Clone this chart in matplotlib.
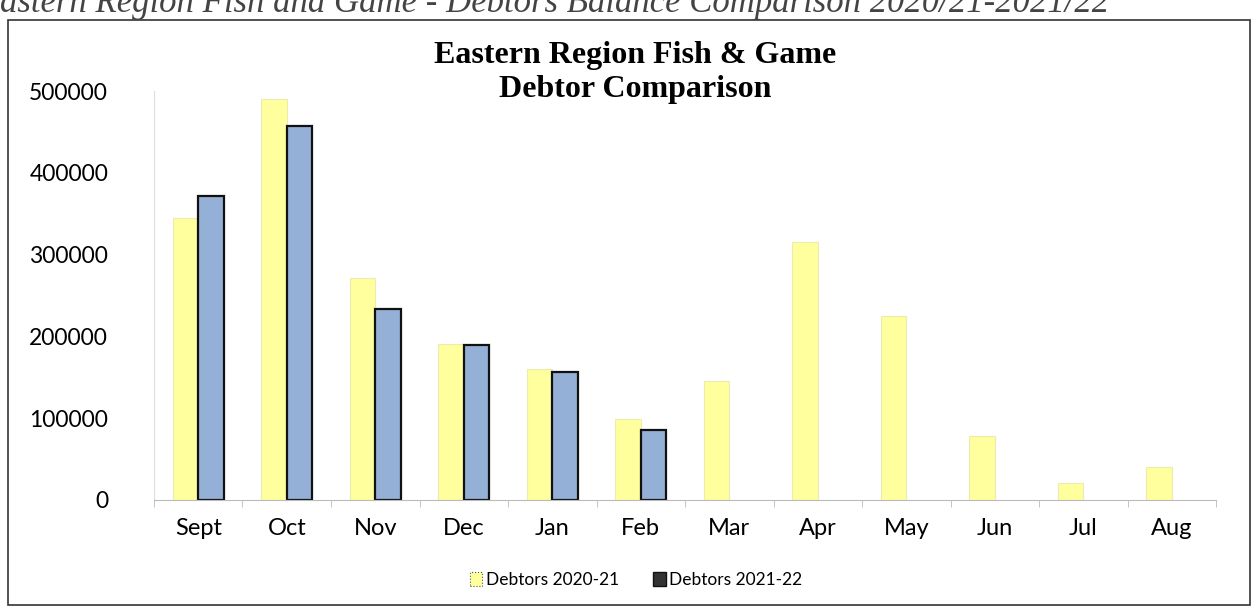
import matplotlib
matplotlib.use("Agg")
from matplotlib import pyplot as plt
from matplotlib.patches import Rectangle, Patch
import numpy as np

months = ["Sept", "Oct", "Nov", "Dec", "Jan", "Feb", "Mar", "Apr", "May", "Jun", "Jul", "Aug"]
debtors_2020_21 = [345000, 490000, 271000, 191000, 160000, 99000, 145000, 316000, 225000, 78000, 21000, 40000]
debtors_2021_22 = [372000, 457000, 233000, 190000, 157000, 85000]
yticks = [0, 100000, 200000, 300000, 400000, 500000]

yellow = "#ffff9e"
blue = "#95b0d6"

fig = plt.figure(figsize=(12.57, 6.15), dpi=100)

# outer chart frame
fig.patches.append(Rectangle((8 / 1257, 1 - 605 / 615), 1242 / 1257, 585 / 615,
                             transform=fig.transFigure, fill=False,
                             edgecolor="#333333", linewidth=1.2))

# caption above the chart, cut off by the page edge
fig.text(0.0, 1 - 3 / 615, "astern Region Fish and Game - Debtors Balance Comparison 2020/21-2021/22",
         family="Liberation Serif", style="italic", fontsize=25, color="#444444",
         va="center", ha="left")

ax = fig.add_axes([0.1225, 0.187, 0.845, 0.665])
x = np.arange(len(months))
w = 0.29
ax.bar(x - w / 2, debtors_2020_21, width=w, color=yellow, edgecolor="#ececb0", linewidth=0.8,
       label="Debtors 2020-21")
ax.bar(x[:len(debtors_2021_22)] + w / 2, debtors_2021_22, width=w, color=blue,
       edgecolor="#111111", linewidth=1.6, label="Debtors 2021-22")

ax.set_xlim(-0.5, len(months) - 0.5)
ax.set_ylim(0, 500000)
ax.set_yticks(yticks)
ax.set_yticklabels([str(v) for v in yticks], family="Lato", fontsize=16.5)
ax.set_xticks(x)
ax.set_xticklabels(months, family="Lato", fontsize=17)
ax.tick_params(axis="x", length=0, pad=13)
ax.tick_params(axis="y", length=0, pad=33)
ax.set_xticks(np.arange(-0.5, len(months)), minor=True)
ax.tick_params(axis="x", which="minor", length=5, color="#bbbbbb", direction="out")

for s in ["top", "right"]:
    ax.spines[s].set_visible(False)
ax.spines["left"].set_color("#dddddd")
ax.spines["bottom"].set_color("#bbbbbb")

fig.text(0.505, 1 - 55 / 615, "Eastern Region Fish & Game", family="Liberation Serif",
         weight="bold", fontsize=23, ha="center", va="center")
fig.text(0.505, 1 - 90 / 615, "Debtor Comparison", family="Liberation Serif",
         weight="bold", fontsize=23, ha="center", va="center")

handles = [Patch(facecolor=yellow, edgecolor="#555555", linestyle=":", linewidth=0.8),
           Patch(facecolor="#333333", edgecolor="#111111")]
fig.legend(handles, ["Debtors 2020-21", "Debtors 2021-22"], loc="center",
           bbox_to_anchor=(636 / 1257, 1 - 580 / 615), ncol=2, frameon=False,
           prop={"family": "Lato", "size": 12.5}, handlelength=0.7, handleheight=0.8,
           handletextpad=0.2, columnspacing=2.0)

fig.savefig("out.png", dpi=100)
